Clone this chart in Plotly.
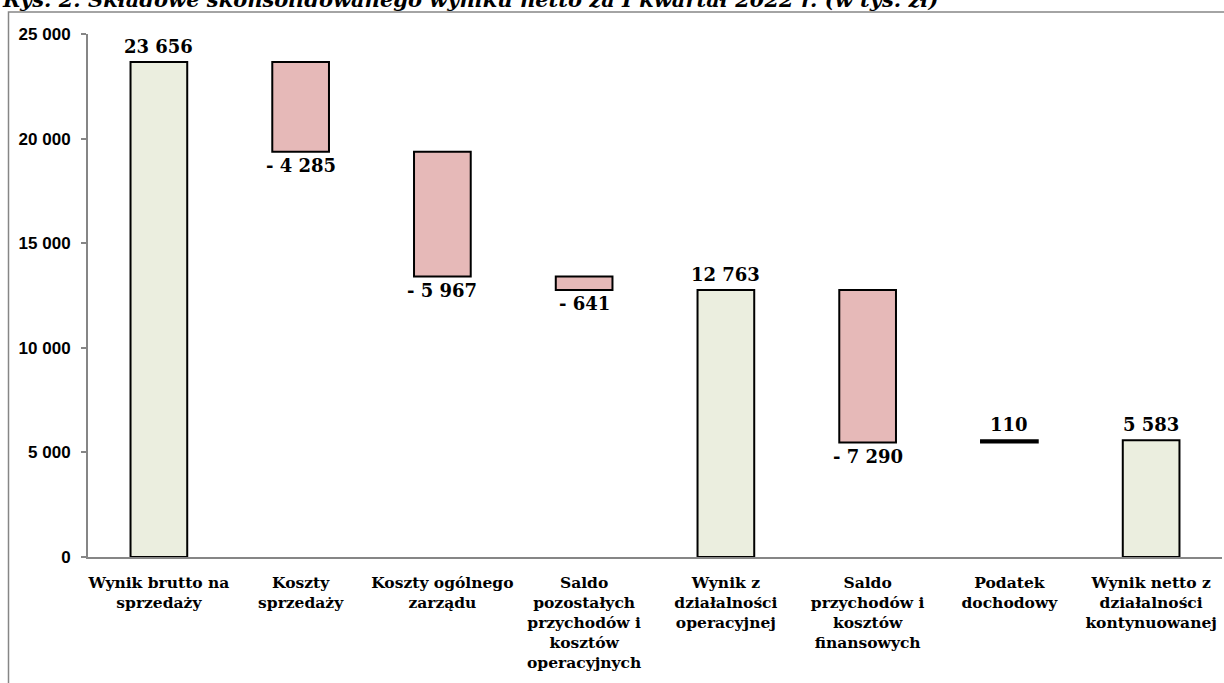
import plotly.graph_objects as go

# Składowe wyniku netto (w tys. zł)
categories = [
    "Wynik brutto na<br>sprzedaży",
    "Koszty<br>sprzedaży",
    "Koszty ogólnego<br>zarządu",
    "Saldo<br>pozostałych<br>przychodów i<br>kosztów<br>operacyjnych",
    "Wynik z<br>działalności<br>operacyjnej",
    "Saldo<br>przychodów i<br>kosztów<br>finansowych",
    "Podatek<br>dochodowy",
    "Wynik netto z<br>działalności<br>kontynuowanej",
]
measures = ["absolute", "relative", "relative", "relative", "total", "relative", "relative", "total"]
values = [23656, -4285, -5967, -641, 12763, -7290, 110, 5583]
y_ticks = [0, 5000, 10000, 15000, 20000, 25000]

TITLE = "Rys. 2. Składowe skonsolidowanego wyniku netto za I kwartał 2022 r. (w tys. zł)"

SERIF = "DejaVu Serif"
SANS = "Liberation Sans"


def fmt(v):
    s = f"{abs(v):,}".replace(",", " ")
    return f"- {s}" if v < 0 else s


def fmt_tick(v):
    return f"{v:,}".replace(",", " ")


fig = go.Figure(
    go.Waterfall(
        x=categories,
        y=values,
        measure=measures,
        connector=dict(visible=False),
        increasing=dict(marker=dict(color="#000000", line=dict(color="#000000", width=2))),
        decreasing=dict(marker=dict(color="#E6B9B8", line=dict(color="#000000", width=2))),
        totals=dict(marker=dict(color="#EBEEDF", line=dict(color="#000000", width=2))),
        hoverinfo="skip",
        showlegend=False,
    )
)

# value labels: above the top for positives/totals, below the bottom for decreases
running = 0
for cat, m, v in zip(categories, measures, values):
    if m == "absolute":
        running = v
        top, label_val = v, v
    elif m == "total":
        top, label_val = running, running
    else:
        start = running
        running = running + v
        label_val = v
        top = max(start, running)
    if m == "relative" and v < 0:
        fig.add_annotation(x=cat, y=running, text=fmt(label_val), showarrow=False,
                           yanchor="top", yshift=-1,
                           font=dict(family=SERIF, size=18, color="#000000", weight="bold"))
    else:
        fig.add_annotation(x=cat, y=top, text=fmt(label_val), showarrow=False,
                           yanchor="bottom", yshift=3,
                           font=dict(family=SERIF, size=18, color="#000000", weight="bold"))

W, H = 1224, 683
L, R, T, B = 88, 2, 34, 126
pw, ph = W - L - R, H - T - B


def px_x(p):
    return (p - L) / pw


def px_y(p):
    return 1 - (p - T) / ph


# chart frame
fig.add_shape(type="rect", xref="paper", yref="paper",
              x0=px_x(8.5), x1=px_x(1230), y0=px_y(12), y1=px_y(700),
              line=dict(color="#868686", width=1.5), fillcolor="rgba(0,0,0,0)", layer="below")

# caption above the frame
fig.add_annotation(xref="paper", yref="paper", x=px_x(0), y=px_y(14),
                   xanchor="left", yanchor="bottom", showarrow=False, text=TITLE,
                   font=dict(family=SERIF, size=21, color="#000000", weight="bold", style="italic"))

fig.update_layout(
    width=W, height=H,
    margin=dict(l=L, r=R, t=T, b=B, pad=0),
    paper_bgcolor="#FFFFFF",
    plot_bgcolor="#FFFFFF",
    waterfallgap=0.6,
    xaxis=dict(
        showline=True, linecolor="#868686", linewidth=2,
        ticks="", showgrid=False, tickangle=0,
        tickfont=dict(family=SERIF, size=15.5, color="#000000", weight="bold"),
        ticklabelstandoff=10,
    ),
    yaxis=dict(
        range=[0, 25000], tickvals=y_ticks, ticktext=[fmt_tick(t) for t in y_ticks],
        showline=True, linecolor="#868686", linewidth=2,
        ticks="outside", ticklen=5, tickcolor="#868686", tickwidth=1.5,
        showgrid=False, zeroline=False,
        tickfont=dict(family=SANS, size=17, color="#000000", weight="bold"),
        ticklabelstandoff=7,
    ),
)

fig.write_html("out.html")
